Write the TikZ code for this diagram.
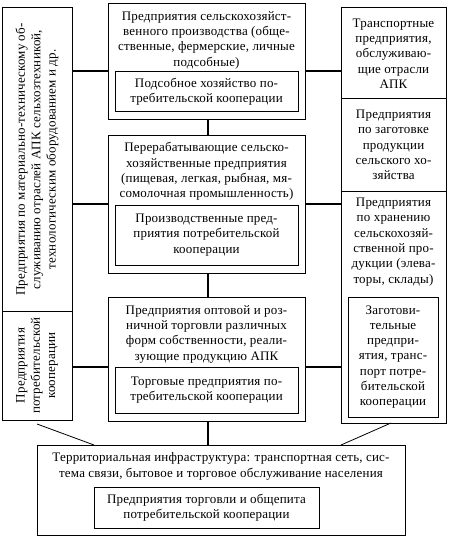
\documentclass[tikz,border=0pt]{standalone}
\usepackage{fontspec}
\setmainfont{Liberation Serif}[LetterSpace=1.5]
\begin{document}
\begin{tikzpicture}[x=1pt,y=-1pt,
  box/.style={draw, line width=1pt, inner sep=0pt, outer sep=0pt, align=center,
    font=\fontsize{13}{15.3}\selectfont},
  txt/.style={inner sep=0pt, align=center, font=\fontsize{13}{15.3}\selectfont},
  conn/.style={line width=2.2pt},
  diag/.style={line width=0.8pt}]
\useasboundingbox (0,0) rectangle (448,540);
% left column
\node[box, minimum width=70pt, minimum height=303pt] (l1) at (37,159.5) {};
\node[box, minimum width=70pt, minimum height=109pt] (l2) at (37,365.5) {};
\node[txt, rotate=90] (l1t) at (37,159.5) {Предприятия по материально-техническому об-\\служиванию отраслей АПК сельхозтехникой,\\технологическим оборудованием и др.};
\node[txt, rotate=90] (l2t) at (37,365.5) {Предприятия\\потребительской\\кооперации};
% center column
\node[box, minimum width=197pt, minimum height=116pt] (ct) at (206.5,62) {};
\node[txt] (ctt) at (206.5,40) {Предприятия сельскохозяйст-\\венного производства (обще-\\ственные, фермерские, личные\\подсобные)};
\node[box, minimum width=183pt, minimum height=40pt] (cti) at (206.5,92) {Подсобное хозяйство по-\\требительской кооперации};
\node[box, minimum width=197pt, minimum height=137pt] (cm) at (206.5,204.5) {};
\node[txt] (cmt) at (206.5,171.5) {Перерабатывающие сельско-\\хозяйственные предприятия\\(пищевая, легкая, рыбная, мя-\\сомолочная промышленность)};
\node[box, minimum width=183pt, minimum height=60pt] (cmi) at (206.5,235) {Производственные пред-\\приятия потребительской\\кооперации};
\node[box, minimum width=197pt, minimum height=124pt] (cb) at (206.5,359) {};
\node[txt] (cbt) at (206.5,334) {Предприятия оптовой и роз-\\ничной торговли различных\\форм собственности, реали-\\зующие продукцию АПК};
\node[box, minimum width=183pt, minimum height=46pt] (cbi) at (206.5,390) {Торговые предприятия по-\\требительской кооперации};
% bottom
\node[box, minimum width=368pt, minimum height=90pt] (bt) at (221,490) {};
\node[txt] (btt) at (221,466.5) {Территориальная инфраструктура: транспортная сеть, сис-\\тема связи, бытовое и торговое обслуживание населения};
\node[box, minimum width=225pt, minimum height=41pt] (bti) at (206.5,507.5) {Предприятия торговли и общепита\\потребительской кооперации};
% right column
\node[box, minimum width=105pt, minimum height=91pt] (r1) at (393.5,53.5) {Транспортные\\предприятия,\\обслуживаю-\\щие отрасли\\АПК};
\node[box, minimum width=105pt, minimum height=92pt] (r2) at (393.5,145) {Предприятия\\по заготовке\\продукции\\сельского хо-\\зяйства};
\node[box, minimum width=105pt, minimum height=232pt] (r3) at (393.5,307) {};
\node[txt] (r3t) at (393.5,242) {Предприятия\\по хранению\\сельскохозяй-\\ственной про-\\дукции (элева-\\торы, склады)};
\node[box, minimum width=90pt, minimum height=120pt] (r3i) at (393,357) {Заготови-\\тельные\\предпри-\\ятия, транс-\\порт потре-\\бительской\\кооперации};
% connectors
\coordinate (k1) at (0,71);
\coordinate (k2) at (0,204);
\coordinate (k3) at (0,367);
\coordinate (kv) at (208,0);
\draw[conn] (l1.east |- k1) -- (ct.west |- k1);
\draw[conn] (ct.east |- k1) -- (r1.west |- k1);
\draw[conn] (l1.east |- k2) -- (cm.west |- k2);
\draw[conn] (cm.east |- k2) -- (r3.west |- k2);
\draw[conn] (l2.east |- k3) -- (cb.west |- k3);
\draw[conn] (cb.east |- k3) -- (r3.west |- k3);
\draw[conn] (kv |- ct.south) -- (kv |- cm.north);
\draw[conn] (kv |- cm.south) -- (kv |- cb.north);
\draw[conn] (kv |- cb.south) -- (kv |- bt.north);
\draw[diag] ([yshift=-4pt]l2.south) -- ([xshift=57pt]bt.north west);
\draw[diag] ([xshift=-2.5pt]r3.south) -- ([xshift=-64pt]bt.north east);
\end{tikzpicture}
\end{document}
